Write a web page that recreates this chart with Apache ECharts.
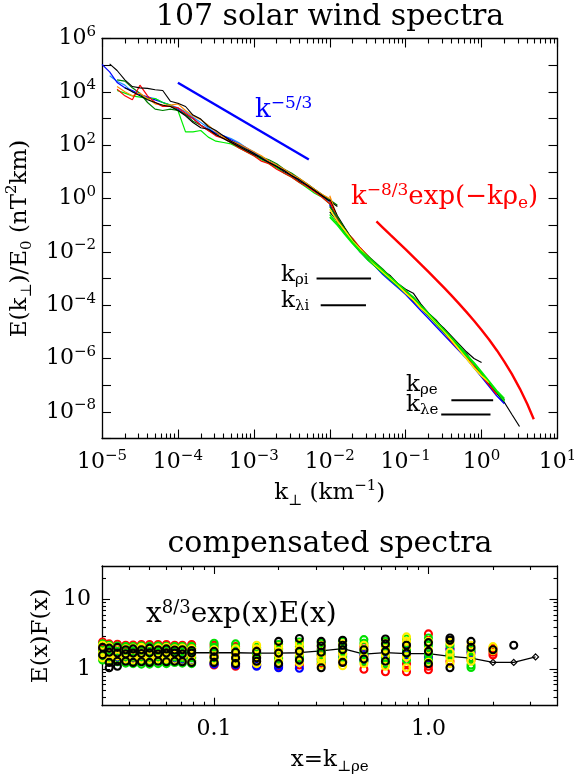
<!DOCTYPE html>
<html>
<head>
<meta charset="utf-8">
<title>107 solar wind spectra</title>
<script src="https://cdn.jsdelivr.net/npm/echarts@6.0.0/dist/echarts.min.js"></script>
<style>
  html, body { margin: 0; padding: 0; background: #ffffff; }
  #chart { width: 574px; height: 776px; }
</style>
</head>
<body>
<div id="chart"></div>
<script>
// ---------------- data ----------------
// perpendicular wavenumber grids (km^-1)
const kLow = [1.0e-5, 1.26e-5, 1.58e-5, 2.0e-5, 2.51e-5, 3.16e-5, 3.98e-5, 5.01e-5, 6.31e-5, 7.94e-5,
  1.0e-4, 1.26e-4, 1.58e-4, 2.0e-4, 2.51e-4, 3.16e-4, 3.98e-4, 5.01e-4, 6.31e-4, 7.94e-4,
  1.0e-3, 1.26e-3, 1.58e-3, 2.0e-3, 2.51e-3, 3.16e-3, 3.98e-3, 5.01e-3, 6.31e-3, 7.94e-3,
  1.0e-2, 1.26e-2];
const kHigh = [0.01, 0.0126, 0.0158, 0.02, 0.0251, 0.0316, 0.0398, 0.0501, 0.0631, 0.0794,
  0.1, 0.126, 0.158, 0.2, 0.251, 0.316, 0.398, 0.501, 0.631, 0.794,
  1.0, 1.26, 1.58, 2.0, 2.51, 3.16];

// inertial-range spectra E(k)/E0 (nT^2 km), null where a spectrum has no data
const lowBlack = [null, 1.12e5, 6.31e4, 2.82e4, 1.58e4, 1.41e4, 1.35e4, 1.2e4, 1.12e4, 4.47e3,
  3.72e3, 2.82e3, 1.35e3, 955, 501, 355, 224, 141, 100, 70.8,
  50.1, 31.6, 22.4, 15.8, 11.2, 7.08, 5.01, 3.16, 2.0, 1.26, 0.794, 0.501];
const lowBlue = [1.07e5, 5.62e4, 2.24e4, 1.41e4, 1.12e4, 7.94e3, 6.31e3, 5.01e3, 3.98e3, 3.16e3,
  2.24e3, 1.41e3, 1e3, 562, 398, 282, 224, 158, 112, 79.4,
  50.1, 35.5, 25.1, 15.8, 11.2, 7.94, 5.01, 3.16, 2.0, 1.26, 0.794, null];
const lowSky = [null, 3.98e4, 2.51e4, 1.78e4, 1e4, 7.94e3, 6.31e3, 5.62e3, 3.98e3, 3.16e3,
  2.51e3, 1.78e3, 1.12e3, 708, 447, 282, 224, 178, 126, 79.4,
  56.2, 35.5, 25.1, 17.8, 12.6, 7.94, 5.01, 3.55, 2.24, 1.26, 0.708, null];
const lowLime = [null, null, 1.12e4, 8.91e3, 7.08e3, 6.31e3, 5.62e3, 5.62e3, 3.98e3, 3.16e3,
  2e3, 316, 316, 355, 200, 141, 126, 112, 79.4, 56.2,
  39.8, 28.2, 20, 14.1, 8.91, 6.31, 3.98, 2.51, 1.58, 1.12, 0.631, null];
const lowForest = [null, null, 2.82e4, 2.51e4, 1.41e4, 8.91e3, 3.98e3, 2.24e3, 2e3, 2.24e3,
  2e3, 1.41e3, 794, 562, 355, 251, 178, 126, 89.1, 63.1,
  44.7, 35.5, 28.2, 20, 12.6, 8.91, 5.62, 3.55, 2.24, 1.41, 0.891, 0.562];
const lowRed = [null, null, 1.26e4, 7.08e3, 5.01e3, 1.78e4, 7.08e3, 3.98e3, 2.82e3, 2.82e3,
  2.51e3, 1.58e3, 1e3, 562, 355, 224, 178, 126, 79.4, 56.2,
  39.8, 25.1, 20, 12.6, 8.91, 6.31, 3.98, 2.82, 1.78, 1.12, 0.631, null];
const lowOrange = [null, null, 1.58e4, 1e4, 7.08e3, 8.91e3, 5.62e3, 3.55e3, 3.16e3, 3.16e3,
  3.55e3, 2e3, 1.26e3, 891, 562, 316, 200, 141, 112, 79.4,
  56.2, 39.8, 25.1, 17.8, 12.6, 7.94, 5.62, 3.55, 2.24, 1.41, 1.0, null];
const lowBlack2 = [null, null, null, 1.41e4, 1e4, 7.08e3, 5.01e3, 3.98e3, 3.16e3, 2.82e3,
  2e3, 1.26e3, 708, 447, 398, 251, 178, 126, 89.1, 63.1,
  44.7, 31.6, 22.4, 15.8, 10, 7.08, 4.47, 3.16, 2.0, 1.26, 0.794, null];

// kinetic-range spectra
const hiBlack = [0.891, 0.224, 7.94e-2, 2.82e-2, 1.41e-2, 7.08e-3, 3.39e-3, 2.0e-3, 1.26e-3, 6.31e-4,
  3.98e-4, 2.82e-4, 1.12e-4, 5.01e-5, 2.82e-5, 1.26e-5, 6.6e-6, 2.82e-6, 1.51e-6, 6.31e-7,
  2.82e-7, 1.12e-7, 5.01e-8, 2.24e-8, 7.94e-9, 2.82e-9];
const hiBlack2 = [0.631, 0.126, 5.62e-2, 2.24e-2, 1e-2, 5.62e-3, 2.82e-3, 1.58e-3, 8.91e-4, 5.01e-4,
  3.16e-4, 2e-4, 1e-4, 5.01e-5, 2.51e-5, 1.41e-5, 7.08e-6, 3.55e-6, 1.78e-6, 1e-6,
  7.08e-7, null, null, null, null, null];
const hiBlack3 = [0.316, 0.141, 5.01e-2, 2.51e-2, 1.12e-2, 5.62e-3, 3.16e-3, 1.58e-3, 8.91e-4, 5.01e-4,
  2.82e-4, 1.41e-4, 7.94e-5, 3.98e-5, 2e-5, 1e-5, 5.01e-6, 2.24e-6, 1.12e-6, 5.01e-7,
  2.51e-7, 1.12e-7, 5.62e-8, 2.82e-8, null, null];
const hiLime = [0.251, 0.112, 5.01e-2, 2.24e-2, 1.12e-2, 6.31e-3, 3.55e-3, 2e-3, 1.12e-3, 6.31e-4,
  3.55e-4, 2e-4, 1e-4, 5.01e-5, 2.51e-5, 1.26e-5, 6.31e-6, 3.16e-6, 1.41e-6, 7.08e-7,
  3.16e-7, 1.41e-7, 6.31e-8, 3.16e-8, null, null];
const hiForest = [0.501, 0.2, 7.08e-2, 2.82e-2, 1.26e-2, 7.08e-3, 3.98e-3, 2.24e-3, 1.12e-3, 6.31e-4,
  3.55e-4, 1.78e-4, 8.91e-5, 4.47e-5, 2.24e-5, 1.12e-5, 5.62e-6, 2.51e-6, 1.26e-6, 6.31e-7,
  2.82e-7, 1.26e-7, 5.62e-8, null, null, null];
const hiYellow = [0.398, 0.141, 6.31e-2, 2.51e-2, 1.26e-2, 6.31e-3, 3.16e-3, 1.78e-3, 1e-3, 5.62e-4,
  2.82e-4, 1.58e-4, 7.94e-5, 4.47e-5, 2.24e-5, 1.12e-5, 5.01e-6, 2.24e-6, 1e-6, 4.47e-7,
  2.24e-7, 1.26e-7, null, null, null, null];
const hiRed = [0.794, 0.178, 6.31e-2, 3.16e-2, 1.41e-2, 7.08e-3, 3.55e-3, 2e-3, 1.12e-3, 5.62e-4,
  3.16e-4, 1.58e-4, 7.94e-5, 3.98e-5, 2e-5, 1e-5, 4.47e-6, 2.24e-6, 1.12e-6, 5.01e-7,
  2.24e-7, 1e-7, 4.47e-8, null, null, null];
const hiBlue = [0.562, 0.158, 5.62e-2, 2.24e-2, 1e-2, 5.01e-3, 2.82e-3, 1.41e-3, 7.94e-4, 4.47e-4,
  2.51e-4, 1.26e-4, 6.31e-5, 3.16e-5, 1.58e-5, 7.94e-6, 3.98e-6, 2e-6, 1e-6, 4.47e-7,
  2e-7, 8.91e-8, 3.98e-8, 2e-8, null, null];
const hiOrange = [1.26, 0.2, 7.08e-2, 2.82e-2, 1.26e-2, 6.31e-3, 3.55e-3, 2e-3, null, null,
  null, null, null, null, null, null, null, null, null, null,
  null, null, null, null, null, null];
const hiLime2 = [0.2, 0.1, 4.47e-2, 2e-2, 1e-2, 5.01e-3, 2.82e-3, 1.58e-3, 8.91e-4, 5.01e-4,
  2.82e-4, 1.58e-4, 7.94e-5, 3.98e-5, 2e-5, 1e-5, 5.01e-6, 2.51e-6, 1.26e-6, 6.31e-7,
  2.82e-7, 1.26e-7, 5.62e-8, 2.51e-8, null, null];

// reference slopes
const slopeKolmogorov = [[1e-4, 2.2e4], [5.3e-3, 29]];
const modelCurve = [[0.0412, 0.138], [0.05, 8.15e-2], [0.063, 4.34e-2], [0.08, 2.27e-2], [0.1, 1.23e-2],
  [0.126, 6.5e-3], [0.16, 3.32e-3], [0.2, 1.77e-3], [0.25, 9.3e-4], [0.32, 4.54e-4], [0.4, 2.33e-4],
  [0.5, 1.17e-4], [0.63, 5.6e-5], [0.8, 2.55e-5], [1.0, 1.18e-5], [1.26, 5.04e-6], [1.6, 1.96e-6],
  [2.0, 7.5e-7], [2.5, 2.65e-7], [3.2, 7.3e-8], [4.0, 1.96e-8], [4.87, 5.3e-9]];

// characteristic wavenumber markers
const kRhoI = [[6.7e-3, 1e-3], [3.5e-2, 1e-3]];
const kLambdaI = [[7.6e-3, 1e-4], [3.0e-2, 1e-4]];
const kRhoE = [[0.40, 2.7e-8], [1.42, 2.7e-8]];
const kLambdaE = [[0.294, 8e-9], [1.31, 8e-9]];

// compensated spectra: columns in x = k rho_e, values of E(x)F(x) per colour group
const colX = [0.0302, 0.0324, 0.0354, 0.0387, 0.0419, 0.0458, 0.05, 0.0548, 0.0599, 0.0655,
  0.0711, 0.0786, 0.1, 0.126, 0.158, 0.2, 0.25, 0.316, 0.398, 0.5,
  0.63, 0.79, 1.0, 1.26, 1.58, 2.0, 2.5, 3.16];
const colMedian = [1.75, 1.75, 1.73, 1.72, 1.72, 1.7, 1.7, 1.7, 1.7, 1.7,
  1.72, 1.72, 1.72, 1.72, 1.7, 1.7, 1.72, 1.83, 1.97, 1.64,
  1.73, 1.67, 1.67, 1.52, 1.44, 1.25, 1.25, 1.5];
const compRed = [[2.45, 2.0, 1.9], [2.3, 2.05, 1.55], [2.28, 2.0, 1.6], [2.2, 1.98, 1.5], [2.22, 2.0, 1.45],
  [2.25, 2.02, 1.5], [2.25, 1.98, 1.45], [2.25, 2.0, 1.5], [2.25, 2.02, 1.55], [2.2, 2.0, 1.5],
  [2.2, 1.95, 1.45], [2.25, 2.0, 1.5], [2.2, 1.6, 1.15], [2.1, 1.55, 1.1], [1.9, 1.6, 1.15],
  [2.0, 1.45, 1.1], [1.9, 1.5, 1.15], [1.95, 1.6, 1.2], [2.0, 1.65, 1.3], [2.1, 1.55, 1.0],
  [1.9, 1.5, 0.92], [2.0, 1.2, 0.92], [3.2, 1.5, 1.1, 0.98], [2.0, 1.3], [1.8, 1.35],
  [2.0, 1.75, 1.6], [], []];
const compYellow = [[2.2, 1.7, 1.45], [2.1, 1.65, 1.4], [2.0, 1.55, 1.35], [1.95, 1.6, 1.4], [2.0, 1.55, 1.35],
  [2.05, 1.6, 1.4], [1.95, 1.55, 1.38], [2.0, 1.6, 1.4], [2.05, 1.5, 1.4], [1.95, 1.6, 1.35],
  [2.0, 1.55, 1.3], [1.95, 1.6, 1.3], [1.9, 1.55, 1.35, 1.28], [1.95, 1.6, 1.35, 1.28],
  [2.2, 1.95, 1.5, 1.3, 1.2], [2.1, 1.8, 1.6, 1.3], [2.3, 1.95, 1.65, 1.25], [2.2, 1.5, 1.38, 1.15],
  [2.3, 1.65, 1.35, 1.12], [2.2, 1.9, 1.5, 1.2], [2.35, 1.95, 1.6, 1.1], [2.9, 2.5, 2.1, 1.5, 1.05],
  [2.5, 1.9, 1.25], [2.4, 1.75, 1.45, 1.2], [2.2, 1.6, 1.3], [2.1, 1.85], [], []];
const compGreen = [[2.3, 1.8, 1.62, 1.5, 1.35], [2.2, 1.85, 1.6, 1.45, 1.3], [2.15, 1.8, 1.62, 1.4, 1.28],
  [2.1, 1.85, 1.55, 1.35, 1.22], [2.1, 1.8, 1.6, 1.3, 1.2], [2.15, 1.85, 1.58, 1.35, 1.18],
  [2.12, 1.8, 1.62, 1.3, 1.18], [2.15, 1.78, 1.55, 1.35, 1.2], [2.12, 1.85, 1.6, 1.32, 1.2],
  [2.1, 1.8, 1.5, 1.25], [2.1, 1.78, 1.45, 1.22], [2.12, 1.8, 1.45, 1.2], [2.35, 2.05, 1.75, 1.45],
  [2.3, 2.0, 1.7, 1.4], [2.05, 1.7, 1.6], [2.25, 1.9, 1.45, 1.35], [2.45, 2.1, 1.55, 1.45],
  [2.35, 1.85, 1.65, 1.3], [2.5, 2.0, 1.8, 1.45], [2.65, 2.35, 1.75, 1.3], [2.5, 2.1, 1.45, 1.2],
  [2.7, 1.9, 1.75, 1.35], [2.8, 2.2, 1.65, 1.35], [2.2, 1.65, 1.55], [1.9, 1.45, 1.15, 1.06], [], [], []];
const compBlack = [[2.05, 1.6], [2.0, 1.75, 1.25, 1.05], [2.05, 1.7, 1.3, 1.1], [1.9, 1.65, 1.3],
  [1.95, 1.7, 1.25], [1.9, 1.68, 1.28], [2.0, 1.72, 1.25], [1.9, 1.65, 1.3], [1.95, 1.7, 1.28],
  [1.88, 1.7, 1.3], [1.9, 1.65, 1.28], [1.85, 1.7, 1.25], [1.8, 1.5, 1.25], [1.75, 1.45, 1.2],
  [1.8, 1.45, 1.3], [2.5, 1.7, 1.2], [2.75, 1.8, 1.35], [2.5, 2.15, 1.75, 1.05], [2.6, 2.2, 1.9, 1.25],
  [1.9, 1.4], [2.7, 2.3, 1.8, 1.3], [2.2, 1.7], [2.4, 1.8, 1.2], [2.8, 2.6, 1.05], [2.5, 2.05],
  [1.9], [2.2], []];
const compBlue = [[1.45], [1.4], [1.45], [1.42], [1.38], [1.4], [1.38], [1.42], [1.38], [1.4], [1.36], [1.32],
  [1.22, 1.18], [1.2, 1.15], [1.1, 1.15], [1.05, 1.15], [1.03], [1.4], [1.55], [1.6, 1.35], [1.65],
  [2.3, 1.6], [1.45], [1.9], [1.7], [], [], []];

// ---------------- tick values ----------------
const decades = (lo, hi) => { const out = []; for (let e = lo; e <= hi; e++) out.push(Number('1e' + e)); return out; };
const minorBetween = (lo, hi) => { const out = []; for (let e = lo; e < hi; e++) for (let m = 2; m <= 9; m++) out.push(Number(m + 'e' + e)); return out; };
const topXTicks = decades(-5, 1);
const topXMinor = minorBetween(-5, 1);
const topYTicks = decades(-9, 6);
const botXTicks = [0.1, 1.0];
const botXTickText = ['0.1', '1.0'];
const botXMinor = [0.04, 0.05, 0.06, 0.07, 0.08, 0.09, 0.2, 0.3, 0.4, 0.5, 0.6, 0.7, 0.8, 0.9, 2, 3];
const botYTicks = [1, 10];
const botYTickText = ['1', '10'];
const botYMinor = [0.4, 0.5, 0.6, 0.7, 0.8, 0.9, 2, 3, 4, 5, 6, 7, 8, 9, 20];

// ---------------- styling helpers ----------------
const FONT = 'DejaVu Serif';
const INK = '#000000';
const MINUS = '\u2212';

function powerLabel(v) {
  const e = Math.round(Math.log10(v));
  return '{b|10}{s|' + (e < 0 ? MINUS + (-e) : String(e)) + '}';
}
const tickRich = {
  b: { fontFamily: FONT, fontSize: 22, color: INK, lineHeight: 28 },
  s: { fontFamily: FONT, fontSize: 15, color: INK, lineHeight: 15, verticalAlign: 'top' }
};
const nameRich = {
  t: { fontFamily: FONT, fontSize: 23, color: INK, lineHeight: 30 },
  d: { fontFamily: FONT, fontSize: 15, color: INK, lineHeight: 15, verticalAlign: 'bottom' },
  p: { fontFamily: FONT, fontSize: 15, color: INK, lineHeight: 15, verticalAlign: 'top' }
};
function nearestText(ticks, texts) {
  return v => {
    let best = 0;
    ticks.forEach((t, i) => { if (Math.abs(Math.log10(v / t)) < Math.abs(Math.log10(v / ticks[best]))) best = i; });
    return texts[best];
  };
}

function logAxis(o) {
  const axis = {
    type: 'log', logBase: 10, gridIndex: o.grid, position: o.position, min: o.min, max: o.max,
    silent: true,
    splitLine: { show: false }, minorTick: { show: false }, minorSplitLine: { show: false },
    axisLine: { show: !o.minor, onZero: false, lineStyle: { color: INK, width: 1.3 } },
    axisTick: { show: true, inside: true, length: o.tickLen, customValues: o.ticks, lineStyle: { color: INK, width: 1.1 } },
    axisLabel: { show: false }
  };
  if (o.labels) {
    axis.axisLabel = Object.assign({ show: true, customValues: o.ticks, fontFamily: FONT, color: INK, fontSize: 22, hideOverlap: false }, o.labels);
  }
  if (o.name) {
    axis.name = o.name;
    axis.nameLocation = 'middle';
    axis.nameGap = o.nameGap;
    axis.nameTextStyle = { fontFamily: FONT, fontSize: 23, color: INK, rich: nameRich };
  }
  return axis;
}

const pairs = (ks, vals) => ks.map((k, i) => (vals[i] == null ? null : [k, vals[i]])).filter(p => p);
function curve(data, color, width, z) {
  return {
    type: 'line', xAxisIndex: 0, yAxisIndex: 0, data, symbol: 'none', showSymbol: false,
    lineStyle: { color, width }, silent: true, z: z || 3
  };
}
function column(vals, color) {
  const data = [];
  colX.forEach((x, i) => (vals[i] || []).forEach(v => data.push([x, v])));
  return {
    type: 'scatter', xAxisIndex: 4, yAxisIndex: 2, data, symbol: 'circle', symbolSize: 7,
    itemStyle: { color: 'rgba(0,0,0,0)', borderColor: color, borderWidth: 2.1, opacity: 1 },
    silent: true, z: 3
  };
}

const C = {
  black: '#000000', blue: '#0000ff', sky: '#1e90ff', lime: '#00ee00', forest: '#007f00',
  red: '#ff0000', orange: '#ff8c00', yellow: '#ffee00'
};

// ---------------- chart ----------------
const chart = echarts.init(document.getElementById('chart'), null, { renderer: 'canvas' });

const option = {
  animation: false,
  backgroundColor: '#ffffff',
  textStyle: { fontFamily: FONT },
  grid: [
    { left: 102, top: 38.5, width: 455.5, height: 400, containLabel: false, outerBoundsMode: 'none' },
    { left: 102, top: 566, width: 455.5, height: 139.7, containLabel: false, outerBoundsMode: 'none' }
  ],
  xAxis: [
    logAxis({ grid: 0, position: 'bottom', min: 1e-5, max: 10, ticks: topXTicks, tickLen: 9,
      labels: { formatter: powerLabel, rich: tickRich, margin: 10 },
      name: '{t|k}{d|\u22a5}{t| (km}{p|' + MINUS + '1}{t|)}', nameGap: 39 }),
    logAxis({ grid: 0, position: 'top', min: 1e-5, max: 10, ticks: topXTicks, tickLen: 9 }),
    logAxis({ grid: 0, position: 'bottom', min: 1e-5, max: 10, ticks: topXMinor, tickLen: 5, minor: true }),
    logAxis({ grid: 0, position: 'top', min: 1e-5, max: 10, ticks: topXMinor, tickLen: 5, minor: true }),
    logAxis({ grid: 1, position: 'bottom', min: 0.03, max: 4, ticks: botXTicks, tickLen: 8,
      labels: { formatter: nearestText(botXTicks, botXTickText), margin: 13 },
      name: '{t|x=k}{d|\u22a5\u03c1e}', nameGap: 39 }),
    logAxis({ grid: 1, position: 'top', min: 0.03, max: 4, ticks: botXTicks, tickLen: 8 }),
    logAxis({ grid: 1, position: 'bottom', min: 0.03, max: 4, ticks: botXMinor, tickLen: 4, minor: true }),
    logAxis({ grid: 1, position: 'top', min: 0.03, max: 4, ticks: botXMinor, tickLen: 4, minor: true })
  ],
  yAxis: [
    logAxis({ grid: 0, position: 'left', min: 1e-9, max: 1e6, ticks: topYTicks, tickLen: 9,
      labels: {
        formatter: v => (Math.round(Math.log10(v)) % 2 === 0 ? powerLabel(v) : ''),
        rich: tickRich, margin: 6
      },
      name: '{t|E(k}{d|\u22a5}{t|)/E}{d|0}{t| (nT}{p|2}{t|km)}', nameGap: 64 }),
    logAxis({ grid: 0, position: 'right', min: 1e-9, max: 1e6, ticks: topYTicks, tickLen: 9 }),
    logAxis({ grid: 1, position: 'left', min: 0.3, max: 30, ticks: botYTicks, tickLen: 8,
      labels: { formatter: nearestText(botYTicks, botYTickText), margin: 11 },
      name: '{t|E(x)F(x)}', nameGap: 43 }),
    logAxis({ grid: 1, position: 'right', min: 0.3, max: 30, ticks: botYTicks, tickLen: 8 }),
    logAxis({ grid: 1, position: 'left', min: 0.3, max: 30, ticks: botYMinor, tickLen: 4, minor: true }),
    logAxis({ grid: 1, position: 'right', min: 0.3, max: 30, ticks: botYMinor, tickLen: 4, minor: true })
  ],
  series: [
    // inertial range
    curve(pairs(kLow, lowSky), C.sky, 1.2),
    curve(pairs(kLow, lowBlue), C.blue, 1.2),
    curve(pairs(kLow, lowForest), C.forest, 1.2),
    curve(pairs(kLow, lowLime), C.lime, 1.2),
    curve(pairs(kLow, lowOrange), C.orange, 1.2),
    curve(pairs(kLow, lowRed), C.red, 1.2),
    curve(pairs(kLow, lowBlack2), C.black, 1.1),
    curve(pairs(kLow, lowBlack), C.black, 1.1),
    // kinetic range
    curve(pairs(kHigh, hiOrange), C.orange, 1.3),
    curve(pairs(kHigh, hiBlack3), C.black, 1.2),
    curve(pairs(kHigh, hiBlack2), C.black, 1.2),
    curve(pairs(kHigh, hiBlack), C.black, 1.2),
    curve(pairs(kHigh, hiBlue), C.blue, 1.4),
    curve(pairs(kHigh, hiRed), C.red, 1.4),
    curve(pairs(kHigh, hiForest), C.forest, 1.4),
    curve(pairs(kHigh, hiLime2), C.lime, 1.5),
    curve(pairs(kHigh, hiYellow), C.yellow, 1.6),
    curve(pairs(kHigh, hiLime), C.lime, 1.5),
    // reference slopes
    curve(slopeKolmogorov, C.blue, 2.4, 4),
    curve(modelCurve, C.red, 2.4, 4),
    // characteristic wavenumbers
    curve(kRhoI, C.black, 2, 4),
    curve(kLambdaI, C.black, 2, 4),
    curve(kRhoE, C.black, 2, 4),
    curve(kLambdaE, C.black, 2, 4),
    // compensated spectra
    {
      type: 'line', xAxisIndex: 4, yAxisIndex: 2, data: colX.map((x, i) => [x, colMedian[i]]),
      symbol: 'diamond', symbolSize: 6, showSymbol: true, silent: true, z: 2,
      lineStyle: { color: INK, width: 1.3 },
      itemStyle: { color: 'rgba(255,255,255,0)', borderColor: INK, borderWidth: 1.2 }
    },
    column(compRed, C.red),
    column(compBlue, C.blue),
    column(compGreen, '#00e000'),
    column(compYellow, '#ffee00'),
    column(compBlack, C.black)
  ],
  graphic: [
    { type: 'text', x: 330, y: 17, silent: true,
      style: { text: '107 solar wind spectra', fontFamily: FONT, fontSize: 30, fill: INK, align: 'center', verticalAlign: 'middle' } },
    { type: 'text', x: 330, y: 544, silent: true,
      style: { text: 'compensated spectra', fontFamily: FONT, fontSize: 30, fill: INK, align: 'center', verticalAlign: 'middle' } },
    { type: 'text', x: 255, y: 110, silent: true,
      style: { text: '{k|k}{s|' + MINUS + '5/3}', align: 'left', verticalAlign: 'middle',
        rich: { k: { fontFamily: FONT, fontSize: 26, fill: C.blue, lineHeight: 30 },
                s: { fontFamily: FONT, fontSize: 17, fill: C.blue, lineHeight: 17, verticalAlign: 'top' } } } },
    { type: 'text', x: 351, y: 197, silent: true,
      style: { text: '{k|k}{s|' + MINUS + '8/3}{k|exp(' + MINUS + 'k\u03c1}{u|e}{k|)}', align: 'left', verticalAlign: 'middle',
        rich: { k: { fontFamily: FONT, fontSize: 26, fill: C.red, lineHeight: 30 },
                s: { fontFamily: FONT, fontSize: 17, fill: C.red, lineHeight: 17, verticalAlign: 'top' },
                u: { fontFamily: FONT, fontSize: 17, fill: C.red, lineHeight: 17, verticalAlign: 'bottom' } } } },
    { type: 'text', x: 146, y: 615, silent: true,
      style: { text: '{k|x}{s|8/3}{k|exp(x)E(x)}', align: 'left', verticalAlign: 'middle',
        rich: { k: { fontFamily: FONT, fontSize: 28, fill: INK, lineHeight: 32 },
                s: { fontFamily: FONT, fontSize: 18, fill: INK, lineHeight: 18, verticalAlign: 'top' } } } },
    { type: 'text', x: 281, y: 275, silent: true,
      style: { text: '{k|k}{u|\u03c1i}', align: 'left', verticalAlign: 'middle',
        rich: { k: { fontFamily: FONT, fontSize: 23, fill: INK, lineHeight: 26 },
                u: { fontFamily: FONT, fontSize: 15, fill: INK, lineHeight: 15, verticalAlign: 'bottom' } } } },
    { type: 'text', x: 281, y: 301, silent: true,
      style: { text: '{k|k}{u|\u03bbi}', align: 'left', verticalAlign: 'middle',
        rich: { k: { fontFamily: FONT, fontSize: 23, fill: INK, lineHeight: 26 },
                u: { fontFamily: FONT, fontSize: 15, fill: INK, lineHeight: 15, verticalAlign: 'bottom' } } } },
    { type: 'text', x: 406, y: 385, silent: true,
      style: { text: '{k|k}{u|\u03c1e}', align: 'left', verticalAlign: 'middle',
        rich: { k: { fontFamily: FONT, fontSize: 23, fill: INK, lineHeight: 26 },
                u: { fontFamily: FONT, fontSize: 15, fill: INK, lineHeight: 15, verticalAlign: 'bottom' } } } },
    { type: 'text', x: 406, y: 405, silent: true,
      style: { text: '{k|k}{u|\u03bbe}', align: 'left', verticalAlign: 'middle',
        rich: { k: { fontFamily: FONT, fontSize: 23, fill: INK, lineHeight: 26 },
                u: { fontFamily: FONT, fontSize: 15, fill: INK, lineHeight: 15, verticalAlign: 'bottom' } } } }
  ]
};

chart.setOption(option);
</script>
</body>
</html>
